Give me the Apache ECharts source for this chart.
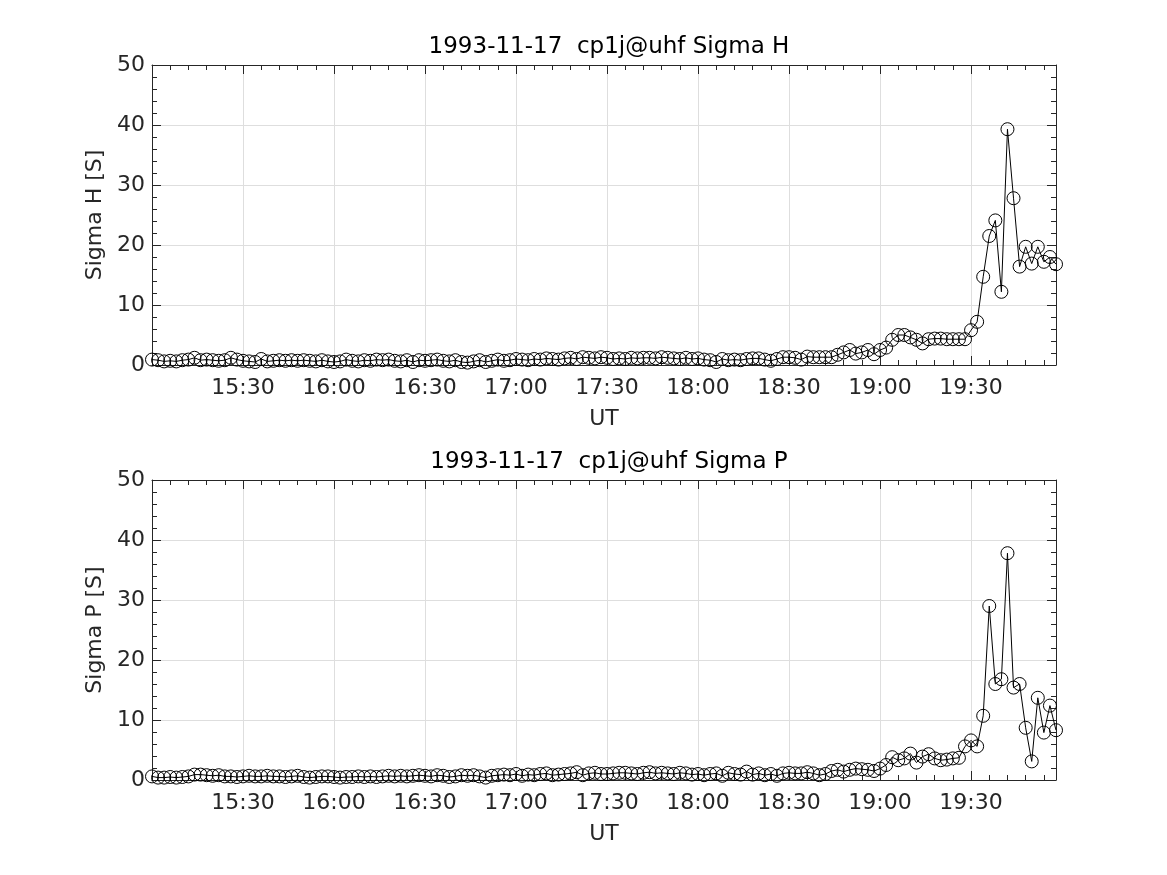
<!DOCTYPE html>
<html>
<head>
<meta charset="utf-8">
<script src="https://cdn.jsdelivr.net/npm/echarts@6/dist/echarts.min.js"></script>
<style>
html,body{margin:0;padding:0;background:#fff;}
#chart{width:1167px;height:875px;}
</style>
</head>
<body>
<div id="chart"></div>
<script>
// Sampling grid: start time (minutes after midnight, 15:00 UT) and step (2 min)
const startMinute = 900;
const stepMinutes = 2;
const xMin = 900;   // 15:00
const xMax = 1198;  // 19:58
const xTickInterval = 30;

const titleH = '1993-11-17  cp1j@uhf Sigma H';
const titleP = '1993-11-17  cp1j@uhf Sigma P';
const yNameH = 'Sigma H [S]';
const yNameP = 'Sigma P [S]';
const xName = 'UT';

const sigmaH = [
  0.9, 0.8, 0.6, 0.7, 0.6, 0.8, 0.9, 1.2, 0.8, 0.9,
  0.8, 0.7, 0.8, 1.2, 0.9, 0.7, 0.6, 0.5, 1.0, 0.6,
  0.7, 0.8, 0.7, 0.8, 0.7, 0.8, 0.7, 0.6, 0.8, 0.6,
  0.5, 0.6, 0.9, 0.7, 0.6, 0.8, 0.7, 0.9, 0.8, 0.9,
  0.7, 0.6, 0.8, 0.5, 0.8, 0.7, 0.8, 0.9, 0.7, 0.6,
  0.8, 0.5, 0.4, 0.6, 0.8, 0.5, 0.7, 0.9, 0.7, 0.8,
  1.0, 0.9, 0.8, 1.0, 0.9, 1.1, 1.0, 0.9, 1.1, 1.2,
  1.0, 1.3, 1.2, 1.1, 1.3, 1.2, 1.0, 1.1, 1.0, 1.2,
  1.1, 1.2, 1.2, 1.1, 1.3, 1.2, 1.1, 1.0, 1.2, 1.0,
  1.1, 0.9, 0.8, 0.5, 1.0, 0.8, 0.9, 0.8, 1.0, 1.1,
  1.1, 0.9, 0.7, 1.0, 1.3, 1.3, 1.2, 0.9, 1.4, 1.3,
  1.3, 1.3, 1.3, 1.7, 2.1, 2.5, 1.9, 2.1, 2.5, 1.8,
  2.5, 2.9, 4.2, 5.0, 5.0, 4.6, 4.2, 3.6, 4.3, 4.4,
  4.4, 4.3, 4.3, 4.3, 4.3, 5.8, 7.2, 14.7, 21.5, 24.1,
  12.2, 39.3, 27.8, 16.4, 19.7, 16.9, 19.7, 17.2, 18.0, 16.8
];

const sigmaP = [
  0.6, 0.4, 0.4, 0.5, 0.4, 0.5, 0.6, 0.9, 0.9, 0.8,
  0.7, 0.8, 0.6, 0.6, 0.5, 0.6, 0.7, 0.6, 0.6, 0.7,
  0.6, 0.6, 0.5, 0.6, 0.7, 0.5, 0.4, 0.5, 0.6, 0.6,
  0.5, 0.4, 0.5, 0.5, 0.6, 0.5, 0.6, 0.5, 0.6, 0.7,
  0.6, 0.7, 0.6, 0.7, 0.8, 0.7, 0.6, 0.8, 0.7, 0.5,
  0.6, 0.8, 0.7, 0.8, 0.6, 0.4, 0.7, 0.8, 0.9, 0.8,
  1.0, 0.7, 0.9, 0.8, 1.0, 1.1, 0.8, 0.9, 1.0, 1.1,
  1.3, 0.8, 1.1, 1.2, 1.0, 1.0, 1.1, 1.2, 1.2, 1.1,
  1.0, 1.2, 1.3, 1.1, 1.2, 1.1, 1.0, 1.2, 1.1, 0.9,
  1.0, 0.8, 1.0, 1.1, 0.7, 1.2, 1.0, 0.9, 1.4, 0.9,
  1.1, 0.8, 1.0, 0.7, 1.1, 1.2, 1.1, 1.1, 1.3, 1.1,
  0.8, 1.0, 1.5, 1.7, 1.4, 1.7, 1.9, 1.8, 1.7, 1.5,
  1.9, 2.5, 3.8, 3.3, 3.6, 4.4, 2.9, 3.9, 4.3, 3.6,
  3.3, 3.4, 3.6, 3.7, 5.6, 6.6, 5.6, 10.7, 29.0, 16.0,
  16.8, 37.8, 15.4, 16.0, 8.7, 3.1, 13.7, 7.9, 12.4, 8.3
];

const yTicks = [0, 10, 20, 30, 40, 50];

function pairs(vals){
  return vals.map((v,i)=>[startMinute + i*stepMinutes, v]);
}
function fmtTime(v){
  if (v % xTickInterval !== 0 || v <= xMin || v >= xMax) return '';
  const h = Math.floor(v/60), m = v % 60;
  return h + ':' + (m < 10 ? '0' + m : m);
}

const TXT = '#262626';
const FONT = 'DejaVu Sans';
const FS = 22;
const gridTops = [65, 480];
const gridH = 300;

const grids = gridTops.map(t => ({left:152, width:904, top:t, height:gridH, containLabel:false}));

function xAxisDef(g, pos){
  const main = pos === 'bottom';
  return {
    type:'value', gridIndex:g, position:pos, min:xMin, max:xMax, interval:xTickInterval,
    name: main ? xName : '', nameLocation:'middle', nameGap:43,
    nameTextStyle:{color:TXT, fontFamily:FONT, fontSize:FS},
    axisLine:{show:true, onZero:false, lineStyle:{color:TXT, width:1}},
    axisTick:{show:true, inside:true, length:9, lineStyle:{color:TXT}},
    minorTick:{show:true, splitNumber:5, length:5, lineStyle:{color:TXT}},
    axisLabel:{show:main, formatter:fmtTime, color:TXT, fontFamily:FONT, fontSize:FS, margin:12,
      showMinLabel:false, showMaxLabel:false},
    splitLine:{show:main, lineStyle:{color:'#dedede', width:1}},
    minorSplitLine:{show:false}
  };
}
function yAxisDef(g, pos, name){
  const main = pos === 'left';
  return {
    type:'value', gridIndex:g, position:pos, min:yTicks[0], max:yTicks[yTicks.length-1], interval:10,
    name: main ? name : '', nameLocation:'middle', nameGap:43, nameRotate:90,
    nameTextStyle:{color:TXT, fontFamily:FONT, fontSize:FS},
    axisLine:{show:true, onZero:false, lineStyle:{color:TXT, width:1}},
    axisTick:{show:true, inside:true, length:9, lineStyle:{color:TXT}},
    minorTick:{show:true, splitNumber:5, length:5, lineStyle:{color:TXT}},
    axisLabel:{show:main, color:TXT, fontFamily:FONT, fontSize:FS, margin:7},
    splitLine:{show:main, lineStyle:{color:'#dedede', width:1}},
    minorSplitLine:{show:false}
  };
}

function seriesDef(idx, vals){
  return {
    type:'line', xAxisIndex: idx*2, yAxisIndex: idx*2, data: pairs(vals),
    symbol:'circle', symbolSize:13, showSymbol:true, showAllSymbol:true, clip:false,
    lineStyle:{color:'#000', width:1},
    itemStyle:{color:'rgba(0,0,0,0)', borderColor:'#000', borderWidth:1},
    emphasis:{disabled:true}, animation:false
  };
}

const chart = echarts.init(document.getElementById('chart'), null, {renderer:'canvas'});
chart.setOption({
  backgroundColor:'#fff',
  animation:false,
  title:[
    {text:titleH, left:604, top:31, textAlign:'center',
     textStyle:{color:'#000', fontFamily:FONT, fontSize:23, fontWeight:'normal'}},
    {text:titleP, left:604, top:446, textAlign:'center',
     textStyle:{color:'#000', fontFamily:FONT, fontSize:23, fontWeight:'normal'}}
  ],
  grid: grids,
  xAxis:[xAxisDef(0,'bottom'), xAxisDef(0,'top'), xAxisDef(1,'bottom'), xAxisDef(1,'top')],
  yAxis:[yAxisDef(0,'left',yNameH), yAxisDef(0,'right',''), yAxisDef(1,'left',yNameP), yAxisDef(1,'right','')],
  series:[seriesDef(0, sigmaH), seriesDef(1, sigmaP)]
});
</script>
</body>
</html>
